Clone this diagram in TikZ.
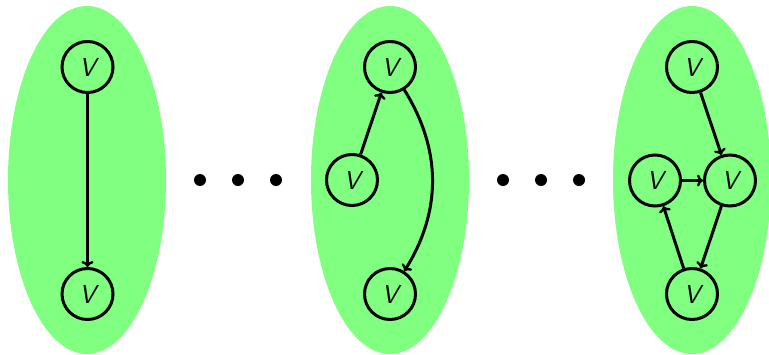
\documentclass[tikz,border=0pt]{standalone}
\usetikzlibrary{arrows.meta}
\begin{document}
\begin{tikzpicture}[x=1pt,y=-1pt,
  blob/.style={fill=green!50!white, draw=none},
  vert/.style={circle, draw, line width=3pt, minimum size=51pt, inner sep=0pt,
    font=\fontsize{26}{30}\selectfont\sffamily\itshape},
  arc/.style={draw, line width=3pt, -{To[length=6pt,width=12pt,line width=2.4pt]}},
  dotmark/.style={circle, fill=black, minimum size=12pt, inner sep=0pt}]
\useasboundingbox (0,0) rectangle (769,354);
% green regions
\fill[blob] (87,180) ellipse [x radius=79, y radius=174];
\fill[blob] (390,180) ellipse [x radius=79, y radius=174];
\fill[blob] (692,180) ellipse [x radius=79, y radius=174];
% first graph
\node[vert] (a1) at (87.5,67) {V};
\node[vert] (a2) at (87.5,294) {V};
\draw[arc] (a1) -- (a2);
% ellipsis dots
\node[dotmark] (d1) at (200,180) {};
\node[dotmark] (d2) at (238,180) {};
\node[dotmark] (d3) at (276,180) {};
% second graph
\node[vert] (b1) at (390,67) {V};
\node[vert] (b2) at (352,180) {V};
\node[vert] (b3) at (390,294) {V};
\draw[arc] (b2) -- (b1);
\draw[arc] (b1) to[bend left=32] (b3);
% ellipsis dots
\node[dotmark] (d4) at (503,180) {};
\node[dotmark] (d5) at (541,180) {};
\node[dotmark] (d6) at (579,180) {};
% third graph
\node[vert] (c1) at (692,67) {V};
\node[vert] (c2) at (655,180.5) {V};
\node[vert] (c3) at (730,180.5) {V};
\node[vert] (c4) at (692,294) {V};
\draw[arc] (c1) -- (c3);
\draw[arc] (c2) -- (c3);
\draw[arc] (c3) -- (c4);
\draw[arc] (c4) -- (c2);
\end{tikzpicture}
\end{document}
